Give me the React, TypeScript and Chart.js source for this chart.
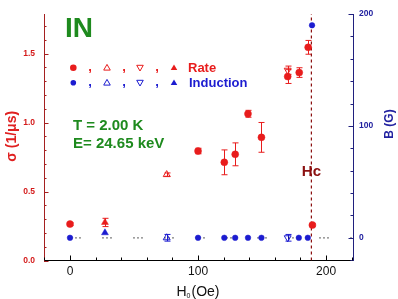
import React, { useEffect, useRef } from 'react';
import { Chart, registerables } from 'chart.js';

Chart.register(...registerables);

const FONT = "'Liberation Sans', Arial, Helvetica, sans-serif";

// ---------- data ----------
// Rate (sigma, 1/us) – left axis
const rateCircleX = [0, 100, 120.5, 129, 139, 149.5, 170, 179, 186, 189.3];
const rateCircleY = [0.264, 0.794, 0.712, 0.77, 1.064, 0.893, 1.334, 1.363, 1.546, 0.257];
const rateCircleErr = [0.01, 0.02, 0.09, 0.083, 0.025, 0.108, 0.05, 0.035, 0.05, 0.01];
const rateOpenUpX = [75.5];
const rateOpenUpY = [0.623];
const rateOpenUpErr = [0.012];
const rateOpenDownX = [170];
const rateOpenDownY = [1.38];
const rateOpenDownErr = [0.03];
const rateFilledUpX = [27.3];
const rateFilledUpY = [0.276];
const rateFilledUpErr = [0.03];

// Induction (B, G) – right axis
const indCircleX = [0, 100, 120.5, 129, 139, 149.5, 178.7, 185.7, 189];
const indCircleY = [0, 0, 0, 0, 0, 0, 0, 0, 190];
const indOpenUpX = [75.5];
const indOpenUpY = [0];
const indOpenUpErr = [3];
const indOpenDownX = [170];
const indOpenDownY = [0];
const indOpenDownErr = [3];
const indFilledUpX = [27.3];
const indFilledUpY = [4.5];

const hcField = 188.5;
const zeroLineX = [0, 221];

const xTickLabels = [0, 100, 200];
const yTickLabels = [0, 0.5, 1.0, 1.5];
const y2TickLabels = [0, 100, 200];

const RED = '#e81c1c';
const BLUE = '#1c1cd0';
const LEFT_AXIS = '#a52020';
const LEFT_TEXT = '#d41a1a';
const RIGHT_AXIS = '#20207e';
const RIGHT_TEXT = '#2222a0';
const GREEN = '#1e8a1e';
const HC = '#8b1010';

const pts = (xs: number[], ys: number[]) => xs.map((x, i) => ({ x, y: ys[i] }));

function drawShape(ctx: CanvasRenderingContext2D, kind: string, x: number, y: number, r: number, color: string) {
  ctx.save();
  ctx.fillStyle = color;
  ctx.strokeStyle = color;
  ctx.lineWidth = 1;
  ctx.beginPath();
  if (kind === 'circle') {
    ctx.arc(x, y, r, 0, Math.PI * 2);
    ctx.fill();
  } else {
    const down = kind.includes('down');
    const s = down ? -1 : 1;
    ctx.moveTo(x, y - s * r);
    ctx.lineTo(x + r * 0.866, y + s * r * 0.5);
    ctx.lineTo(x - r * 0.866, y + s * r * 0.5);
    ctx.closePath();
    if (kind.includes('open')) ctx.stroke();
    else ctx.fill();
  }
  ctx.restore();
}

const errorBarPlugin = {
  id: 'errorBars',
  beforeDatasetsDraw(chart: any) {
    const ctx = chart.ctx;
    chart.data.datasets.forEach((ds: any, i: number) => {
      if (!ds.errors) return;
      const meta = chart.getDatasetMeta(i);
      const ys = chart.scales[ds.yAxisID];
      ctx.save();
      ctx.strokeStyle = ds.borderColor;
      ctx.lineWidth = 1;
      ds.data.forEach((p: any, j: number) => {
        const el = meta.data[j];
        if (!el) return;
        const e = ds.errors[j];
        const x = Math.round(el.x) + 0.5;
        const yt = ys.getPixelForValue(p.y + e);
        const yb = ys.getPixelForValue(p.y - e);
        ctx.beginPath();
        ctx.moveTo(x, yt);
        ctx.lineTo(x, yb);
        ctx.moveTo(x - 3, yt);
        ctx.lineTo(x + 3, yt);
        ctx.moveTo(x - 3, yb);
        ctx.lineTo(x + 3, yb);
        ctx.stroke();
      });
      ctx.restore();
    });
  },
};

const tickPlugin = {
  id: 'innerTicks',
  afterDraw(chart: any) {
    const ctx = chart.ctx;
    const { left, right, bottom } = chart.chartArea;
    const xs = chart.scales.x;
    const ys = chart.scales.y;
    const y2 = chart.scales.y2;
    ctx.save();
    ctx.lineWidth = 1;
    // left
    ctx.strokeStyle = LEFT_AXIS;
    for (let k = 0; k <= 17; k++) {
      const v = k / 10;
      const major = k % 5 === 0;
      const py = Math.round(ys.getPixelForValue(v)) + 0.5;
      ctx.beginPath();
      ctx.moveTo(left, py);
      ctx.lineTo(left + (major ? 4.5 : 2.5), py);
      ctx.stroke();
    }
    // right
    ctx.strokeStyle = RIGHT_AXIS;
    for (let v = -20; v <= 200; v += 20) {
      const major = v % 100 === 0;
      const py = Math.round(y2.getPixelForValue(v)) + 0.5;
      ctx.beginPath();
      ctx.moveTo(right, py);
      ctx.lineTo(right - (major ? 4.5 : 2.5), py);
      ctx.stroke();
    }
    // bottom
    ctx.strokeStyle = '#000';
    for (let v = -20; v <= 220; v += 20) {
      const major = v % 100 === 0;
      const px = Math.round(xs.getPixelForValue(v)) + 0.5;
      ctx.beginPath();
      ctx.moveTo(px, bottom);
      ctx.lineTo(px, bottom - (major ? 5 : 3));
      ctx.stroke();
    }
    ctx.restore();
  },
};

const textPlugin = {
  id: 'texts',
  afterDraw(chart: any) {
    const ctx: CanvasRenderingContext2D = chart.ctx;
    ctx.save();
    ctx.textBaseline = 'alphabetic';
    ctx.textAlign = 'left';
    // IN
    ctx.fillStyle = GREEN;
    ctx.font = `bold 28px ${FONT}`;
    ctx.fillText('IN', 65, 37);
    // T / E
    ctx.font = `bold 15px ${FONT}`;
    ctx.fillText('T = 2.00 K', 73, 130);
    ctx.fillText('E= 24.65 keV', 73, 148);

    // legend rows
    const rows = [
      { y: 67.7, color: RED, label: 'Rate', lx: 188, r: 3.3 },
      { y: 82.7, color: BLUE, label: 'Induction', lx: 189, r: 2.8 },
    ];
    rows.forEach((row) => {
      drawShape(ctx, 'circle', 73.3, row.y, row.r, row.color);
      drawShape(ctx, 'open-up', 107, row.y + 0.5, 3.8, row.color);
      drawShape(ctx, 'open-down', 140, row.y - 0.5, 3.8, row.color);
      drawShape(ctx, 'filled-up', 174, row.y + 0.5, 3.8, row.color);
      ctx.fillStyle = row.color;
      ctx.font = `bold 13px ${FONT}`;
      ctx.textAlign = 'center';
      [90, 124, 157].forEach((cx) => ctx.fillText(',', cx, row.y + 3.5));
      ctx.textAlign = 'left';
      ctx.fillText(row.label, row.lx, row.y + 4.7);
    });

    // Hc
    const hx = chart.scales.x.getPixelForValue(hcField);
    ctx.fillStyle = HC;
    ctx.font = `bold 15px ${FONT}`;
    ctx.textAlign = 'center';
    ctx.fillText('Hc', hx, 175.5);

    // axis titles
    ctx.save();
    ctx.translate(12, 136.3);
    ctx.rotate(-Math.PI / 2);
    ctx.fillStyle = '#e02020';
    ctx.font = `bold 14px ${FONT}`;
    ctx.textAlign = 'center';
    ctx.textBaseline = 'middle';
    ctx.fillText('σ (1/μs)', 0, 0);
    ctx.restore();

    ctx.save();
    ctx.translate(389.5, 124);
    ctx.rotate(-Math.PI / 2);
    ctx.fillStyle = RIGHT_TEXT;
    ctx.font = `bold 12px ${FONT}`;
    ctx.textAlign = 'center';
    ctx.textBaseline = 'middle';
    ctx.fillText('B (G)', 0, 0);
    ctx.restore();

    // bottom title H0(Oe)
    ctx.fillStyle = '#111';
    ctx.textAlign = 'left';
    ctx.font = `14px ${FONT}`;
    const wH = ctx.measureText('H').width;
    ctx.font = `7px ${FONT}`;
    const w0 = ctx.measureText('0').width;
    ctx.font = `14px ${FONT}`;
    const wO = ctx.measureText('(Oe)').width;
    const total = wH + w0 + 1 + wO;
    let sx = 198 - total / 2;
    ctx.fillText('H', sx, 295.5);
    sx += wH;
    ctx.font = `7px ${FONT}`;
    ctx.fillText('0', sx, 298);
    sx += w0 + 1;
    ctx.font = `14px ${FONT}`;
    ctx.fillText('(Oe)', sx, 295.5);

    ctx.restore();
  },
};

export default function App() {
  const ref = useRef<HTMLCanvasElement>(null);
  useEffect(() => {
    const canvas = ref.current;
    if (!canvas) return;
    const openBg = 'rgba(255,255,255,0)';
    const chart = new Chart(canvas, {
      type: 'scatter',
      data: {
        datasets: [
          {
            data: pts(rateCircleX, rateCircleY), errors: rateCircleErr, yAxisID: 'y',
            pointStyle: 'circle', pointRadius: 3.5, backgroundColor: RED, borderColor: RED, borderWidth: 0.5,
          } as any,
          {
            data: pts(rateOpenUpX, rateOpenUpY), errors: rateOpenUpErr, yAxisID: 'y',
            pointStyle: 'triangle', pointRadius: 4, backgroundColor: openBg, borderColor: RED, borderWidth: 1,
          } as any,
          {
            data: pts(rateOpenDownX, rateOpenDownY), errors: rateOpenDownErr, yAxisID: 'y',
            pointStyle: 'triangle', rotation: 180, pointRadius: 4, backgroundColor: openBg, borderColor: RED, borderWidth: 1,
          } as any,
          {
            data: pts(rateFilledUpX, rateFilledUpY), errors: rateFilledUpErr, yAxisID: 'y',
            pointStyle: 'triangle', pointRadius: 4, backgroundColor: RED, borderColor: RED, borderWidth: 0.5,
          } as any,
          {
            data: pts(indCircleX, indCircleY), yAxisID: 'y2',
            pointStyle: 'circle', pointRadius: 2.8, backgroundColor: BLUE, borderColor: BLUE, borderWidth: 0.5,
          } as any,
          {
            data: pts(indOpenUpX, indOpenUpY), errors: indOpenUpErr, yAxisID: 'y2',
            pointStyle: 'triangle', pointRadius: 4, backgroundColor: openBg, borderColor: BLUE, borderWidth: 1,
          } as any,
          {
            data: pts(indOpenDownX, indOpenDownY), errors: indOpenDownErr, yAxisID: 'y2',
            pointStyle: 'triangle', rotation: 180, pointRadius: 4, backgroundColor: openBg, borderColor: BLUE, borderWidth: 1,
          } as any,
          {
            data: pts(indFilledUpX, indFilledUpY), yAxisID: 'y2',
            pointStyle: 'triangle', pointRadius: 4, backgroundColor: BLUE, borderColor: BLUE, borderWidth: 0.5,
          } as any,
          {
            data: [{ x: hcField, y: 0 }, { x: hcField, y: 1.787 }], yAxisID: 'y',
            showLine: true, pointRadius: 0, borderColor: HC, borderWidth: 1.2, borderDash: [3, 3],
          } as any,
          {
            data: zeroLineX.map((x) => ({ x, y: 0 })), yAxisID: 'y2',
            showLine: true, pointRadius: 0, borderColor: '#000', borderWidth: 1.3,
            borderDash: [1, 3, 1, 3, 1, 22], borderDashOffset: -1.5,
          } as any,
        ],
      },
      options: {
        responsive: false,
        animation: false,
        layout: { padding: { top: 13.3, left: 0, right: 0, bottom: 0 } },
        plugins: { legend: { display: false }, tooltip: { enabled: false } },
        scales: {
          x: {
            type: 'linear', position: 'bottom', min: -20.3, max: 221,
            grid: { display: false, drawTicks: false, tickLength: 0 },
            border: { display: true, color: '#000', width: 1 },
            ticks: {
              color: '#111', font: { family: FONT, size: 12 }, padding: 4,
              callback: (v: any) => String(v),
            },
            afterBuildTicks: (s: any) => { s.ticks = xTickLabels.map((value) => ({ value })); },
            afterFit: (s: any) => { s.height = 38.5; },
          },
          y: {
            type: 'linear', position: 'left', min: 0, max: 1.787,
            grid: { display: false, drawTicks: false, tickLength: 0 },
            border: { display: true, color: LEFT_AXIS, width: 1 },
            ticks: {
              color: LEFT_TEXT, font: { family: FONT, size: 8.5, weight: 'bold' }, padding: 9,
              callback: (v: any) => Number(v).toFixed(1),
            },
            afterBuildTicks: (s: any) => { s.ticks = yTickLabels.map((value) => ({ value })); },
            afterFit: (s: any) => { s.width = 44; },
          },
          y2: {
            type: 'linear', position: 'right', min: -20.3, max: 200,
            grid: { display: false, drawTicks: false, tickLength: 0 },
            border: { display: true, color: RIGHT_AXIS, width: 1 },
            ticks: {
              color: RIGHT_TEXT, font: { family: FONT, size: 8.5, weight: 'bold' }, padding: 6,
              callback: (v: any) => String(v),
            },
            afterBuildTicks: (s: any) => { s.ticks = y2TickLabels.map((value) => ({ value })); },
            afterFit: (s: any) => { s.width = 45; },
          },
        },
      } as any,
      plugins: [errorBarPlugin, tickPlugin, textPlugin],
    });
    return () => chart.destroy();
  }, []);
  return (
    <div style={{ position: 'absolute', left: 0, top: 0, width: 398, height: 299, background: '#fff' }}>
      <canvas ref={ref} width={398} height={299} style={{ display: 'block', width: 398, height: 299 }} />
    </div>
  );
}
